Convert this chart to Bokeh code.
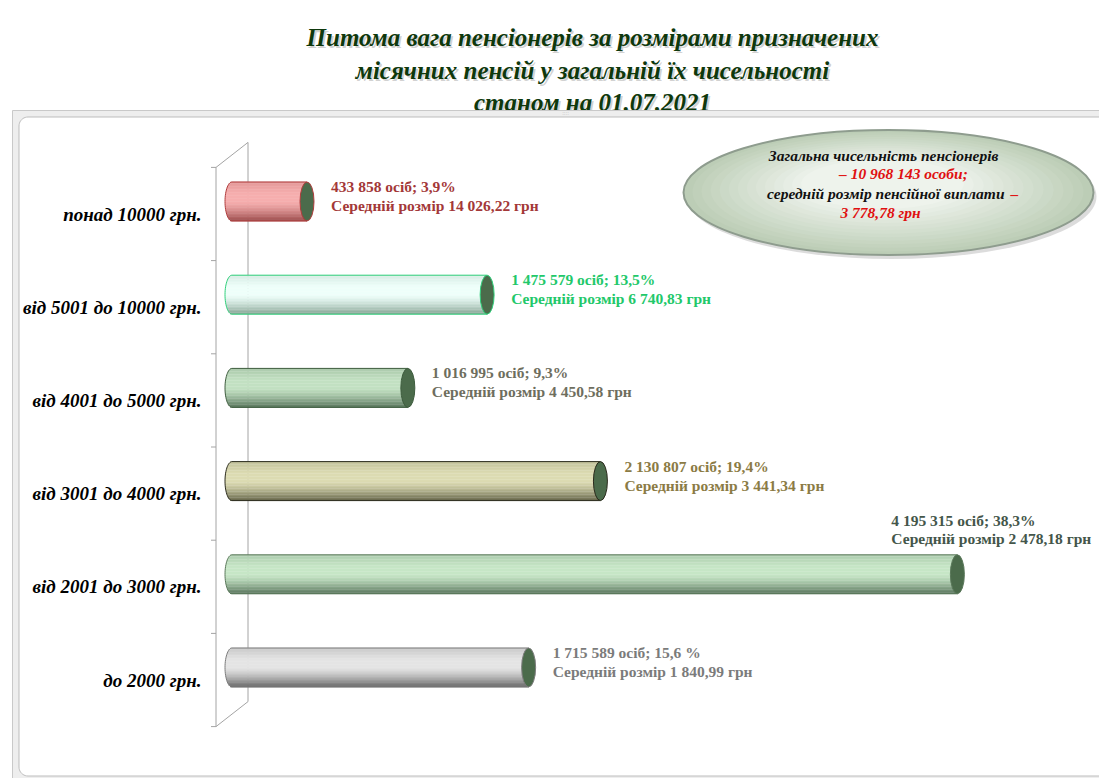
import math
from bokeh.plotting import figure
from bokeh.models import Range1d, ColumnDataSource
from bokeh.core.properties import value
from bokeh.embed import file_html
from bokeh.resources import INLINE

# ---------------- data ----------------
categories = ["до 2000 грн.", "від 2001 до 3000 грн.", "від 3001 до 4000 грн.",
              "від 4001 до 5000 грн.", "від 5001 до 10000 грн.", "понад 10000 грн."]
pensioners = [1715589, 4195315, 2130807, 1016995, 1475579, 433858]
share_labels = ["15,6 %", "38,3%", "19,4%", "9,3%", "13,5%", " 3,9%"]
avg_pension_labels = ["1 840,99", "2 478,18", "3 441,34", "4 450,58", "6 740,83", "14 026,22"]
title_lines = ["Питома вага пенсіонерів за розмірами призначених",
               "місячних пенсій у загальній їх чисельності",
               "станом на 01.07.2021"]
total_count_label = "10 968 143"
total_avg_label = "3 778,78"

# ---------------- style ----------------
body_light = ["#e4e4e4", "#c6e6c6", "#dcdbb2", "#c2e0c2", "#eefffa", "#f6aeae"]
body_dark = ["#666666", "#56725a", "#66664a", "#56745a", "#86a494", "#9c4c4c"]
outline = ["#7c7c7c", "#5a785a", "#2a2a1c", "#3e5c3e", "#2fd07a", "#b03c3c"]
label_color = ["#7b7b7b", "#44564a", "#8b7b45", "#6e6e5e", "#22c86a", "#a33838"]
CAP_FILL = "#4b6b4b"
SERIF = value("Liberation Serif")

W, H = 1099, 778
OFF = 0
BASE_PX = 231.5          # page x of zero (mid-depth plane)
PX_PER_COUNT = 172.9e-6
ZERO_Y_PX = 713.6        # page y of the lowest category boundary (mid-depth)
PX_PER_CAT = 93.2
CNT = 1.0 / PX_PER_COUNT  # counts per pixel


def dx(px):
    return px * CNT


def dy(px):
    return px / PX_PER_CAT


x_start = -(BASE_PX - OFF) * CNT
x_end = (OFF + W - BASE_PX) * CNT
y_end = (ZERO_Y_PX - OFF) / PX_PER_CAT
y_start = -(OFF + H - ZERO_Y_PX) / PX_PER_CAT

p = figure(width=W, height=H, x_range=Range1d(x_start, x_end), y_range=Range1d(y_start, y_end),
           output_backend="svg", toolbar_location=None, min_border=0, title=None,
           x_axis_location=None, y_axis_location=None, outline_line_color=None,
           background_fill_color="white", border_fill_color="white")
p.grid.visible = False
p.extra_x_ranges = {"px": Range1d(OFF, OFF + W)}
p.extra_y_ranges = {"px": Range1d(OFF + H, OFF)}
PX = dict(x_range_name="px", y_range_name="px")


def mix(c1, c2, w):
    a = [int(c1[i:i + 2], 16) for i in (1, 3, 5)]
    b = [int(c2[i:i + 2], 16) for i in (1, 3, 5)]
    r = [round(a[k] * (1 - w) + b[k] * w) for k in range(3)]
    return "#%02x%02x%02x" % tuple(r)


# ---------------- title ----------------
title_y = [37, 70, 102]
p.text(x=[594] * 3, y=[v + 2 for v in title_y], text=title_lines, text_align="center",
       text_baseline="middle", text_font=SERIF, text_font_style="bold italic",
       text_font_size="25px", text_color="#9a9a9a", text_alpha=0.45, **PX)
p.text(x=[592] * 3, y=title_y, text=title_lines, text_align="center",
       text_baseline="middle", text_font=SERIF, text_font_style="bold italic",
       text_font_size="25px", text_color="#0e380c", **PX)

# ---------------- chart frame ----------------
p.quad(left=[12], right=[1110], top=[110], bottom=[790], fill_color="#eeeeee",
       line_color="#c9c9c9", line_width=1, **PX)
R = 9
L, T, Rt, B = 18.5, 116.5, 1110, 775.5
bx, by = [], []
for k in range(0, 11):
    a = math.pi + k * (math.pi / 2) / 10
    bx.append(L + R + R * math.cos(a))
    by.append(T + R + R * math.sin(a))
bx += [Rt, Rt]
by += [T, B]
for k in range(0, 11):
    a = math.pi / 2 + k * (math.pi / 2) / 10
    bx.append(L + R + R * math.cos(a))
    by.append(B - R + R * math.sin(a))
p.patch(x=bx, y=by, fill_color="white", line_color="#bdbdbd", line_width=1, **PX)
p.text(x=[565], y=[112], text=["::::"], text_align="center", text_baseline="middle",
       text_font_size="6px", text_color="#b0b0b0", **PX)

# ---------------- info ellipse ----------------
EX, EY, EW, EH = 888, 192, 410, 125
p.ellipse(x=[EX + 3], y=[EY + 4], width=EW, height=EH, width_units="screen",
          height_units="screen", fill_color="#9a9a9a", fill_alpha=0.35, line_color=None, **PX)
NE = 14
for k in range(NE):
    s = 1 - k * 0.65 / NE
    c = mix("#bccdb6", "#eef3ec", k / (NE - 1))
    p.ellipse(x=[EX - 10 * (1 - s)], y=[EY - 14 * (1 - s)], width=EW * s, height=EH * s,
              width_units="screen", height_units="screen", fill_color=c, line_color=None, **PX)
p.ellipse(x=[EX], y=[EY], width=EW, height=EH, width_units="screen", height_units="screen",
          fill_color=None, line_color="#8e9c8e", line_width=2, **PX)
info_font = dict(text_font=SERIF, text_font_style="bold italic", text_font_size="15.5px",
                 text_baseline="middle")
p.text(x=[887], y=[155], text=["Загальна  чисельність  пенсіонерів"], text_align="center",
       text_color="#111111", **info_font, **PX)
p.text(x=[903], y=[173], text=["– " + total_count_label + " особи;"], text_align="center",
       text_color="#e01010", **info_font, **PX)
p.text(x=[1004], y=[193], text=["середній розмір пенсійної виплати"], text_align="right",
       text_color="#111111", **info_font, **PX)
p.text(x=[1010], y=[193], text=["–"], text_align="left", text_color="#e01010", **info_font, **PX)
p.text(x=[880], y=[212], text=[total_avg_label + " грн"], text_align="center",
       text_color="#e01010", **info_font, **PX)

# ---------------- walls ----------------
n = len(categories)
depth_x = dx(16)
depth_y = dy(12.5)
wall_col = "#a4a4a4"
p.segment(x0=[-depth_x, depth_x, -depth_x, -depth_x], y0=[-depth_y, depth_y, n - depth_y, -depth_y],
          x1=[-depth_x, depth_x, depth_x, depth_x], y1=[n - depth_y, n + depth_y, n + depth_y, depth_y],
          line_color=wall_col, line_width=1)
p.segment(x0=[-depth_x] * (n + 1), y0=[k - depth_y for k in range(n + 1)],
          x1=[-depth_x - dx(5)] * (n + 1), y1=[k - depth_y for k in range(n + 1)],
          line_color=wall_col, line_width=1)

# ---------------- cylinders ----------------
BAR_H = dy(39)
CAP_A = dx(7)
NS = 26
sy, sl, sr, sc = [], [], [], []
for i, v in enumerate(pensioners):
    yc = i + 0.5
    for s in range(NS):
        t = (s + 0.5) / NS
        if t < 0.3:
            w = 0.22 * (1 - t / 0.3)
        elif t < 0.5:
            w = 0.0
        else:
            w = ((t - 0.5) / 0.5) ** 1.4
        sy.append(yc + BAR_H / 2 - t * BAR_H)
        sl.append(-CAP_A * math.sqrt(max(0.0, 1 - (2 * t - 1) ** 2)))
        sr.append(v)
        sc.append(mix(body_light[i], body_dark[i], w))
stripes = ColumnDataSource(dict(y=sy, left=sl, right=sr, color=sc))
p.hbar(y="y", left="left", right="right", height=BAR_H / NS * 1.2, fill_color="color",
       line_color=None, source=stripes)

yc_list = [i + 0.5 for i in range(n)]
p.segment(x0=[0] * n, y0=[y + BAR_H / 2 for y in yc_list], x1=pensioners,
          y1=[y + BAR_H / 2 for y in yc_list], line_color=outline, line_width=1)
p.segment(x0=[0] * n, y0=[y - BAR_H / 2 for y in yc_list], x1=pensioners,
          y1=[y - BAR_H / 2 for y in yc_list], line_color=outline, line_width=1)
arc_xs, arc_ys = [], []
for i in range(n):
    xs, ys = [], []
    for k in range(31):
        a = math.pi / 2 + k * math.pi / 30
        xs.append(CAP_A * math.cos(a))
        ys.append(yc_list[i] + BAR_H / 2 * math.sin(a))
    arc_xs.append(xs)
    arc_ys.append(ys)
p.multi_line(xs=arc_xs, ys=arc_ys, line_color=outline, line_width=1)
p.ellipse(x=pensioners, y=yc_list, width=2 * CAP_A, height=BAR_H, fill_color=CAP_FILL,
          line_color=outline, line_width=1)

# ---------------- category labels ----------------
p.text(x=[dx(201 - BASE_PX)] * n, y=[y - depth_y for y in yc_list], text=categories,
       text_align="right", text_baseline="middle", text_font=SERIF,
       text_font_style="bold italic", text_font_size="19px", text_color="#000000")

# ---------------- value labels ----------------
lx, ly1, ly2, t1, t2, lc = [], [], [], [], [], []
for i, v in enumerate(pensioners):
    cnt = f"{v:,}".replace(",", " ")
    line1 = f"{cnt} осіб; {share_labels[i]}"
    line2 = f"Середній розмір {avg_pension_labels[i]} грн"
    end_px = BASE_PX + v * PX_PER_COUNT
    if end_px + 26 + 7.3 * len(line2) > OFF + W:
        lx.append(v + dx(-66))
        ly1.append(yc_list[i] + dy(54))
        ly2.append(yc_list[i] + dy(36))
    else:
        lx.append(v + dx(24))
        ly1.append(yc_list[i] + dy(15))
        ly2.append(yc_list[i] - dy(4))
    t1.append(line1)
    t2.append(line2)
    lc.append(label_color[i])
labels = ColumnDataSource(dict(x=lx, y1=ly1, y2=ly2, t1=t1, t2=t2, c=lc))
for yy, tt in (("y1", "t1"), ("y2", "t2")):
    p.text(x="x", y=yy, text=tt, source=labels, text_align="left", text_baseline="middle",
           text_font=SERIF, text_font_style="bold", text_font_size="15.5px", text_color="c")

open("out.html", "w").write(file_html(p, INLINE))
